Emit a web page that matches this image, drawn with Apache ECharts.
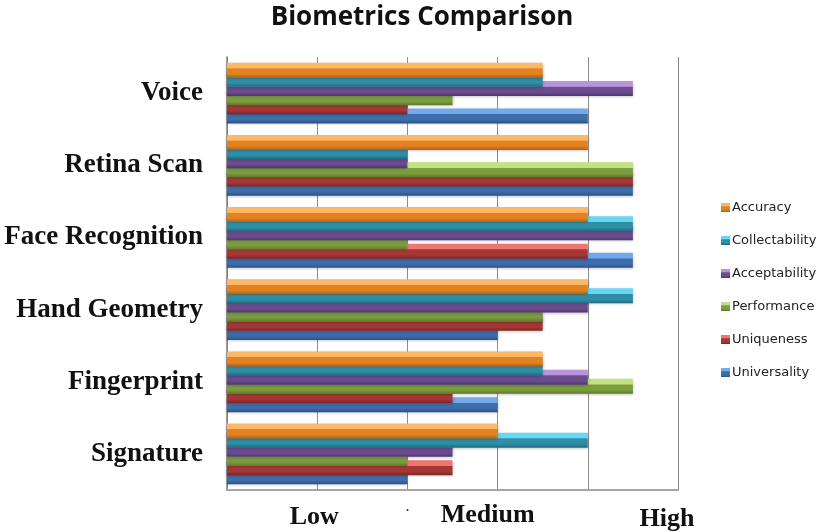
<!DOCTYPE html>
<html>
<head>
<meta charset="utf-8">
<script src="https://cdn.jsdelivr.net/npm/echarts@6/dist/echarts.min.js"></script>
<style>
  html, body { margin: 0; padding: 0; background: #ffffff; }
  #chart { width: 828px; height: 532px; }
</style>
</head>
<body>
<div id="chart"></div>
<script>
// Biometric methods, listed from the bottom of the axis upward
const methods = ['Signature', 'Fingerprint', 'Hand Geometry', 'Face Recognition', 'Retina Scan', 'Voice'];

// Ratings on a 0-5 scale (1 = Low, 3 = Medium, 5 = High)
const accuracy       = [3,   3.5, 4,   4,   4,   3.5];
const collectability = [4,   3.5, 4.5, 4.5, 2,   3.5];
const acceptability  = [2.5, 4,   4,   4.5, 2,   4.5];
const performance    = [2,   4.5, 3.5, 2,   4.5, 2.5];
const uniqueness     = [2.5, 2.5, 3.5, 4,   4.5, 2];
const universality   = [2,   3,   3,   4.5, 4.5, 4];

// Series from the top bar of each group down to the bottom bar
const seriesDefs = [
  { name: 'Accuracy',       data: accuracy,       top: '#fdb768', main: '#e4821f', dark: '#b05f14', legend: '#ec8a2a' },
  { name: 'Collectability', data: collectability, top: '#66d8f2', main: '#2f8ea6', dark: '#1f6a80', legend: '#2fa0c0' },
  { name: 'Acceptability',  data: acceptability,  top: '#b994dc', main: '#6b4c8e', dark: '#4d3570', legend: '#7656a0' },
  { name: 'Performance',    data: performance,    top: '#c2e27f', main: '#7b9d3f', dark: '#5a7a2a', legend: '#8cb044' },
  { name: 'Uniqueness',     data: uniqueness,     top: '#f07470', main: '#a53835', dark: '#7e2424', legend: '#b83a36' },
  { name: 'Universality',   data: universality,   top: '#74aaea', main: '#3d6dab', dark: '#2a5286', legend: '#3f6fb0' }
];

const chart = echarts.init(document.getElementById('chart'));

function barFill(d) {
  // light top face followed by the shaded front face
  return new echarts.graphic.LinearGradient(0, 0, 0, 1, [
    { offset: 0.00, color: d.top },
    { offset: 0.36, color: d.top },
    { offset: 0.40, color: d.main },
    { offset: 0.75, color: d.main },
    { offset: 1.00, color: d.dark }
  ]);
}

// Upper bars sit in front of the bar below, hiding its top face
const series = seriesDefs.map(function (d, i) {
  return {
    name: d.name,
    type: 'bar',
    data: d.data,
    barWidth: 15,
    barGap: '-39%',
    z: 20 - i,
    itemStyle: {
      color: barFill(d),
      shadowColor: 'rgba(0,0,0,0.25)',
      shadowBlur: 3,
      shadowOffsetY: 1
    },
    emphasis: { disabled: true }
  };
});

const option = {
  backgroundColor: '#ffffff',
  animation: false,
  color: seriesDefs.map(function (d) { return d.legend; }),
  title: {
    text: 'Biometrics Comparison',
    left: 417,
    top: 0,
    textAlign: 'center',
    textStyle: {
      fontFamily: 'Open Sans',
      fontWeight: 'bold',
      fontSize: 26,
      color: '#111111'
    }
  },
  legend: {
    orient: 'vertical',
    left: 716,
    top: 196,
    itemWidth: 9,
    itemHeight: 9,
    itemGap: 20,
    icon: 'rect',
    data: seriesDefs.map(function (d) { return d.name; }),
    textStyle: {
      fontFamily: 'DejaVu Sans',
      fontSize: 13,
      color: '#222222',
      padding: [0, 0, 0, -3]
    }
  },
  grid: {
    left: 227,
    top: 57,
    width: 451,
    height: 435
  },
  xAxis: {
    type: 'value',
    min: 0,
    max: 5,
    interval: 1,
    axisLine: { show: true, lineStyle: { color: '#a6a6a6', width: 2 } },
    axisTick: { show: false },
    splitLine: { show: true, lineStyle: { color: '#8c8c8c', width: 1 } },
    axisLabel: {
      margin: 12,
      fontFamily: 'Liberation Serif',
      fontWeight: 'bold',
      fontSize: 26,
      color: '#111111',
      formatter: function (v) {
        if (v === 1) return '{low|Low}';
        if (v === 2) return '{dot|.}';
        if (v === 3) return '{med|Medium}';
        if (v === 5) return '{high|High}';
        return '';
      },
      rich: {
        low:  { fontFamily: 'Liberation Serif', fontWeight: 'bold', fontSize: 26, color: '#111111', padding: [2, 6, 0, 0] },
        dot:  { fontFamily: 'Liberation Serif', fontSize: 12, color: '#333333', padding: [0, 0, 14, 0] },
        med:  { fontFamily: 'Liberation Serif', fontWeight: 'bold', fontSize: 26, color: '#111111', padding: [0, 20, 4, 0] },
        high: { fontFamily: 'Liberation Serif', fontWeight: 'bold', fontSize: 26, color: '#111111', padding: [4, 22, 0, 0] }
      }
    }
  },
  yAxis: {
    type: 'category',
    data: methods,
    axisLine: { show: true, lineStyle: { color: '#7f7f7f', width: 1.5 } },
    axisTick: { show: false },
    splitLine: { show: false },
    axisLabel: {
      margin: 24,
      fontFamily: 'Liberation Serif',
      fontWeight: 'bold',
      fontSize: 27,
      color: '#111111',
      padding: [4, 0, 0, 0]
    }
  },
  series: series
};

chart.setOption(option);
</script>
</body>
</html>
